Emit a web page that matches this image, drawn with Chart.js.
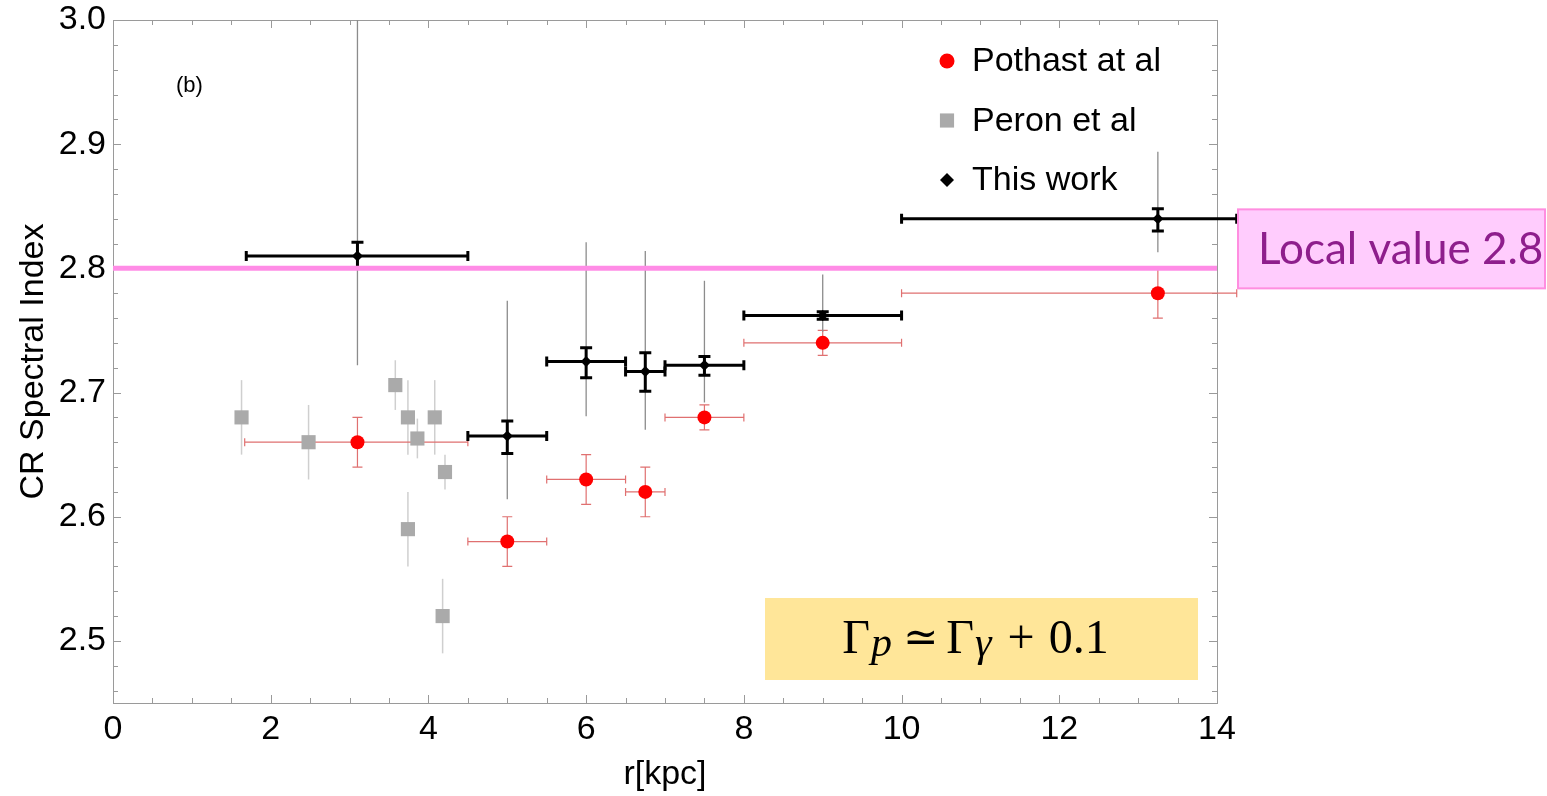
<!DOCTYPE html>
<html>
<head>
<meta charset="utf-8">
<script src="https://cdn.jsdelivr.net/npm/chart.js@4.4.1/dist/chart.umd.min.js"></script>
<style>
  html, body { margin: 0; padding: 0; background: #fff; }
  #wrap { width: 1547px; height: 796px; }
</style>
</head>
<body>
<div id="wrap"><canvas id="crChart" width="1547" height="796"></canvas></div>
<script>
/* CR spectral index vs galactocentric radius */

// ── Data ────────────────────────────────────────────────────────
// Pothast et al (red circles)
const pothastR    = [3.1, 5.0, 6.0, 6.75, 7.5, 9.0, 13.25];
const pothastIdx  = [2.66, 2.58, 2.63, 2.62, 2.68, 2.74, 2.78];
const pothastRLo  = [1.67, 4.5, 5.5, 6.5, 7.0, 8.0, 10.0];
const pothastRHi  = [4.5, 5.5, 6.5, 7.0, 8.0, 10.0, 14.25];
const pothastErr  = [0.02, 0.02, 0.02, 0.02, 0.01, 0.01, 0.02];

// Peron et al (grey squares)
const peronR   = [1.63, 2.48, 3.58, 3.74, 3.86, 4.08, 4.21, 3.74, 4.18];
const peronIdx = [2.68, 2.66, 2.706, 2.68, 2.663, 2.68, 2.636, 2.59, 2.52];
const peronErr = [0.03, 0.03, 0.02, 0.03, 0.016, 0.03, 0.014, 0.03, 0.03];

// This work (black diamonds): stat + sys errors
const thisR      = [3.1, 5.0, 6.0, 6.75, 7.5, 9.0, 13.25];
const thisIdx    = [2.81, 2.665, 2.725, 2.717, 2.722, 2.762, 2.84];
const thisRLo    = [1.69, 4.5, 5.5, 6.5, 7.0, 8.0, 10.0];
const thisRHi    = [4.5, 5.5, 6.5, 7.0, 8.0, 10.0, 14.25];
const thisStatLo = [2.80, 2.651, 2.712, 2.701, 2.714, 2.759, 2.830];
const thisStatHi = [2.821, 2.677, 2.736, 2.732, 2.729, 2.765, 2.848];
const thisSysLo  = [2.722, 2.614, 2.681, 2.670, 2.692, 2.749, 2.813];
const thisSysHi  = [3.0, 2.774, 2.821, 2.814, 2.790, 2.795, 2.894];

// Local value line
const localR     = [0, 14];
const localValue = 2.8;

// Axis ticks
const xTickVals = [0, 2, 4, 6, 8, 10, 12, 14];
const yTickVals = [2.5, 2.6, 2.7, 2.8, 2.9, 3.0];

const FONT = '"Liberation Sans", Arial, sans-serif';

// ── Helpers ─────────────────────────────────────────────────────
function vbar(ctx, px, y1, y2, cap) {
  ctx.beginPath();
  ctx.moveTo(px, y1); ctx.lineTo(px, y2);
  if (cap) {
    ctx.moveTo(px - cap, y1); ctx.lineTo(px + cap, y1);
    ctx.moveTo(px - cap, y2); ctx.lineTo(px + cap, y2);
  }
  ctx.stroke();
}
function hbar(ctx, py, x1, x2, cap) {
  ctx.beginPath();
  ctx.moveTo(x1, py); ctx.lineTo(x2, py);
  if (cap) {
    ctx.moveTo(x1, py - cap); ctx.lineTo(x1, py + cap);
    ctx.moveTo(x2, py - cap); ctx.lineTo(x2, py + cap);
  }
  ctx.stroke();
}

// ── Frame with inward ticks (Mathematica style) ─────────────────
const frameTicks = {
  id: 'frameTicks',
  beforeDatasetsDraw(chart) {
    const { ctx, chartArea: a, scales: { x, y } } = chart;
    ctx.save();
    ctx.strokeStyle = '#9a9a9a';
    ctx.lineWidth = 1;
    ctx.strokeRect(a.left + 0.5, a.top + 0.5, a.right - a.left, a.bottom - a.top);
    ctx.beginPath();
    for (let i = 0; i <= 28; i++) {
      const v = i * 0.5;
      const px = Math.round(x.getPixelForValue(v)) + 0.5;
      const len = i % 4 === 0 ? 8 : 5;
      ctx.moveTo(px, a.bottom); ctx.lineTo(px, a.bottom - len);
      ctx.moveTo(px, a.top); ctx.lineTo(px, a.top + len);
    }
    for (let i = 23; i <= 50; i++) {
      const v = i * 0.02 + 2.0;
      const py = Math.round(y.getPixelForValue(v)) + 0.5;
      const len = i % 5 === 0 ? 8 : 5;
      ctx.moveTo(a.left, py); ctx.lineTo(a.left + len, py);
      ctx.moveTo(a.right, py); ctx.lineTo(a.right - len, py);
    }
    ctx.stroke();
    ctx.restore();
  }
};

// ── Error bars ──────────────────────────────────────────────────
const errorBars = {
  id: 'errorBars',
  beforeDatasetsDraw(chart) {
    const { ctx, scales: { x, y } } = chart;
    ctx.save();
    ctx.lineCap = 'butt';

    // Peron: light grey vertical, no caps
    ctx.strokeStyle = '#cfcfcf';
    ctx.lineWidth = 1.5;
    peronR.forEach((r, i) => {
      vbar(ctx, x.getPixelForValue(r),
        y.getPixelForValue(peronIdx[i] + peronErr[i]),
        y.getPixelForValue(peronIdx[i] - peronErr[i]), 0);
    });

    // Pothast: thin red with caps
    ctx.strokeStyle = '#e07070';
    ctx.lineWidth = 1.2;
    pothastR.forEach((r, i) => {
      const px = x.getPixelForValue(r), py = y.getPixelForValue(pothastIdx[i]);
      hbar(ctx, py, x.getPixelForValue(pothastRLo[i]), x.getPixelForValue(pothastRHi[i]), 4);
      vbar(ctx, px, y.getPixelForValue(pothastIdx[i] + pothastErr[i]),
        y.getPixelForValue(pothastIdx[i] - pothastErr[i]), 5);
    });

    // This work: systematic (grey thin)
    ctx.strokeStyle = '#8c8c8c';
    ctx.lineWidth = 1.3;
    thisR.forEach((r, i) => {
      vbar(ctx, x.getPixelForValue(r), y.getPixelForValue(thisSysHi[i]),
        y.getPixelForValue(thisSysLo[i]), 0);
    });

    // This work: bins + statistical (black thick)
    ctx.strokeStyle = '#000';
    ctx.lineWidth = 3;
    thisR.forEach((r, i) => {
      const px = x.getPixelForValue(r), py = y.getPixelForValue(thisIdx[i]);
      hbar(ctx, py, x.getPixelForValue(thisRLo[i]), x.getPixelForValue(thisRHi[i]), 5);
      vbar(ctx, px, y.getPixelForValue(thisStatHi[i]), y.getPixelForValue(thisStatLo[i]), 6);
    });
    ctx.restore();
  }
};

// ── Legend, labels and boxes ────────────────────────────────────
const overlay = {
  id: 'overlay',
  afterDraw(chart) {
    const { ctx, chartArea: a, scales: { y } } = chart;
    ctx.save();

    // (b)
    ctx.fillStyle = '#000';
    ctx.font = '22px ' + FONT;
    ctx.textBaseline = 'middle';
    ctx.textAlign = 'left';
    ctx.fillText('(b)', a.left + 63, a.top + 66);

    // legend
    const items = [
      { label: 'Pothast at al', style: 'circle', r: 7.5, color: '#ff0000' },
      { label: 'Peron et al', style: 'rect', r: 10, color: '#aaaaaa' },
      { label: 'This work', style: 'rectRot', r: 7, color: '#000000' }
    ];
    ctx.font = '34px ' + FONT;
    items.forEach((it, i) => {
      const ly = a.top + 41 + i * 59.5;
      ctx.fillStyle = it.color;
      ctx.strokeStyle = it.color;
      Chart.helpers.drawPoint(ctx, { pointStyle: it.style, radius: it.r, rotation: 0, borderWidth: 0 },
        a.left + 834, ly);
      ctx.fillStyle = '#000';
      ctx.fillText(it.label, a.left + 859, ly + 1);
    });

    // Local value box
    const ly = y.getPixelForValue(localValue);
    const bx = a.right + 21, by = ly - 59, bw = 307, bh = 79;
    ctx.fillStyle = '#ffccfd';
    ctx.fillRect(bx, by, bw, bh);
    ctx.strokeStyle = '#ff8ee0';
    ctx.lineWidth = 2;
    ctx.strokeRect(bx, by, bw, bh);
    ctx.fillStyle = '#8e1e8c';
    ctx.font = '44px Lato, "Open Sans", sans-serif';
    ctx.textBaseline = 'alphabetic';
    ctx.fillText('Local value 2.8', bx + 20, by + 55);

    // formula box
    const fx = a.left + 652, fy = a.bottom - 105, fw = 433, fh = 82;
    ctx.fillStyle = '#ffe699';
    ctx.fillRect(fx, fy, fw, fh);
    const serif = '"Liberation Serif", serif';
    const parts = [
      { t: 'Γ',   f: '48px ' + serif, dy: 0, gap: 1 },
      { t: 'p',   f: 'italic 42px ' + serif, dy: 3, gap: 11 },
      { t: '≃',   f: '42px "DejaVu Serif", serif', dy: -2, gap: 8 },
      { t: 'Γ',   f: '48px ' + serif, dy: 0, gap: 1 },
      { t: 'γ',   f: 'italic 42px ' + serif, dy: 3, gap: 16 },
      { t: '+',   f: '48px ' + serif, dy: 0, gap: 14 },
      { t: '0.1', f: '48px ' + serif, dy: 0, gap: 0 }
    ];
    let total = 0;
    parts.forEach(p => { ctx.font = p.f; p.w = ctx.measureText(p.t).width; total += p.w + p.gap; });
    let cx = fx + fw / 2 - 6 - total / 2;
    const base = fy + 55;
    ctx.fillStyle = '#000';
    parts.forEach(p => { ctx.font = p.f; ctx.fillText(p.t, cx, base + p.dy); cx += p.w + p.gap; });

    ctx.restore();
  }
};

// ── Chart ───────────────────────────────────────────────────────
const toPts = (xs, ys) => xs.map((v, i) => ({ x: v, y: ys[i] }));

new Chart(document.getElementById('crChart'), {
  type: 'scatter',
  data: {
    datasets: [
      {
        type: 'line',
        label: 'Local value',
        data: localR.map(r => ({ x: r, y: localValue })),
        borderColor: '#ff8ce6',
        borderWidth: 5,
        pointRadius: 0,
        order: 0
      },
      {
        label: 'This work',
        data: toPts(thisR, thisIdx),
        pointStyle: 'rectRot',
        pointRadius: 5.5,
        backgroundColor: '#000',
        borderWidth: 0,
        order: 1
      },
      {
        label: 'Pothast at al',
        data: toPts(pothastR, pothastIdx),
        pointStyle: 'circle',
        pointRadius: 7,
        backgroundColor: '#ff0000',
        borderWidth: 0,
        order: 2
      },
      {
        label: 'Peron et al',
        data: toPts(peronR, peronIdx),
        pointStyle: 'rect',
        pointRadius: 10,
        backgroundColor: '#aaaaaa',
        borderWidth: 0,
        order: 3
      }
    ]
  },
  options: {
    responsive: false,
    animation: false,
    devicePixelRatio: 1,
    layout: { padding: { left: 0, right: 330, top: 20, bottom: 0 } },
    plugins: { legend: { display: false }, tooltip: { enabled: false } },
    scales: {
      x: {
        type: 'linear',
        min: 0, max: 14,
        afterBuildTicks: s => { s.ticks = xTickVals.map(v => ({ value: v })); },
        afterFit: s => { s.height = 93; s.paddingLeft = 0; s.paddingRight = 0; },
        grid: { display: false, drawTicks: false },
        border: { display: false },
        ticks: { color: '#000', font: { family: FONT, size: 34 }, padding: 6, maxRotation: 0,
                 callback: v => String(v) },
        title: { display: true, text: 'r[kpc]', color: '#000',
                 font: { family: FONT, size: 34 }, padding: { top: 0, bottom: 1 } }
      },
      y: {
        type: 'linear',
        min: 2.45, max: 3.0,
        afterBuildTicks: s => { s.ticks = yTickVals.map(v => ({ value: v })); },
        afterFit: s => { s.width = 113; s.paddingTop = 0; s.paddingBottom = 0; },
        grid: { display: false, drawTicks: false },
        border: { display: false },
        ticks: { color: '#000', font: { family: FONT, size: 34 }, padding: 7,
                 callback: v => Number(v).toFixed(1) },
        title: { display: true, text: 'CR Spectral Index', color: '#000',
                 font: { family: FONT, size: 34 }, padding: { top: 13, bottom: 0 } }
      }
    }
  },
  plugins: [frameTicks, errorBars, overlay]
});
</script>
</body>
</html>
